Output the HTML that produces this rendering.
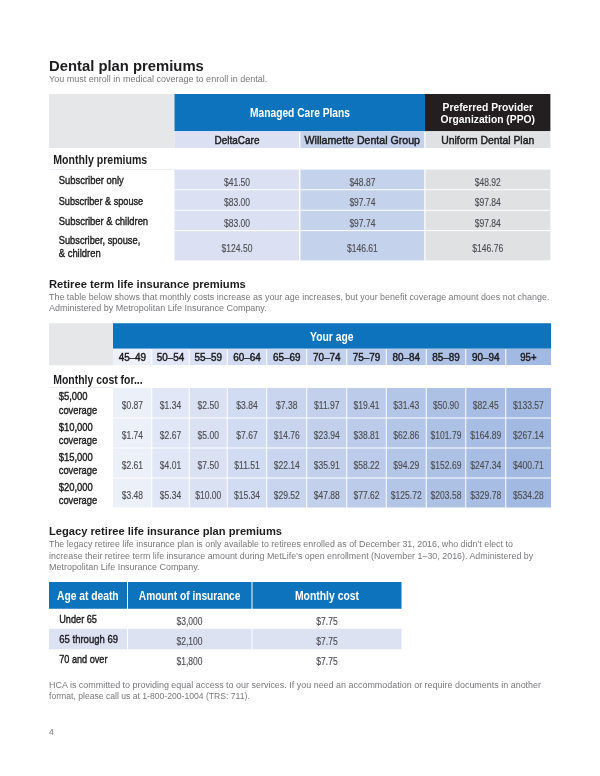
<!DOCTYPE html>
<html lang="en"><head><meta charset="utf-8"><title>Dental plan premiums</title>
<style>
html,body{margin:0;padding:0;background:#fff}
svg{display:block;font-family:"Liberation Sans",sans-serif}
text{white-space:pre}
</style></head><body>
<svg width="600" height="776" viewBox="0 0 600 776">
<text transform="translate(49 70.5) scale(1.0162 1)" font-size="14.6" font-weight="bold" fill="#1d1d1f">Dental plan premiums</text>
<text transform="translate(49 81.5) scale(0.9116 1)" font-size="9.9" fill="#77787b">You must enroll in medical coverage to enroll in dental.</text>
<rect x="49" y="94" width="125.5" height="54" fill="#e6e7e8"/>
<rect x="174.5" y="94" width="250.5" height="37.25" fill="#0d73bc"/>
<rect x="425" y="94" width="125.4" height="37.25" fill="#231f20"/>
<rect x="174.5" y="131.25" width="124.5" height="16.75" fill="#dbe1f3"/>
<rect x="300.5" y="131.25" width="123.75" height="16.75" fill="#c4d2ec"/>
<rect x="425.5" y="131.25" width="124.9" height="16.75" fill="#e0e1e3"/>
<rect x="174.5" y="169.6" width="124.5" height="19.6" fill="#dbe1f3"/>
<rect x="300.5" y="169.6" width="123.75" height="19.6" fill="#c4d2ec"/>
<rect x="425.5" y="169.6" width="124.9" height="19.6" fill="#e0e1e3"/>
<rect x="174.5" y="190.2" width="124.5" height="19.6" fill="#dbe1f3"/>
<rect x="300.5" y="190.2" width="123.75" height="19.6" fill="#c4d2ec"/>
<rect x="425.5" y="190.2" width="124.9" height="19.6" fill="#e0e1e3"/>
<rect x="174.5" y="210.8" width="124.5" height="19.3" fill="#dbe1f3"/>
<rect x="300.5" y="210.8" width="123.75" height="19.3" fill="#c4d2ec"/>
<rect x="425.5" y="210.8" width="124.9" height="19.3" fill="#e0e1e3"/>
<rect x="174.5" y="231.1" width="124.5" height="29.3" fill="#dbe1f3"/>
<rect x="300.5" y="231.1" width="123.75" height="29.3" fill="#c4d2ec"/>
<rect x="425.5" y="231.1" width="124.9" height="29.3" fill="#e0e1e3"/>
<rect x="49" y="169.25" width="125.5" height="0.75" fill="#e4e8f6"/>
<text transform="translate(300 117.25) scale(0.8519 1)" font-size="12" font-weight="bold" fill="#fff" text-anchor="middle">Managed Care Plans</text>
<text transform="translate(487.75 111.25) scale(0.8733 1)" font-size="11.8" font-weight="bold" fill="#fff" text-anchor="middle">Preferred Provider</text>
<text transform="translate(487.75 123.25) scale(0.8736 1)" font-size="11.8" font-weight="bold" fill="#fff" text-anchor="middle">Organization (PPO)</text>
<text transform="translate(237 143.75) scale(0.8692 1)" font-size="11.5" fill="#1d1d1f" stroke="#1d1d1f" stroke-width="0.48" text-anchor="middle">DeltaCare</text>
<text transform="translate(362.25 143.75) scale(0.9220 1)" font-size="11.5" fill="#1d1d1f" stroke="#1d1d1f" stroke-width="0.48" text-anchor="middle">Willamette Dental Group</text>
<text transform="translate(487.75 143.75) scale(0.9037 1)" font-size="11.5" fill="#1d1d1f" stroke="#1d1d1f" stroke-width="0.48" text-anchor="middle">Uniform Dental Plan</text>
<text transform="translate(53.25 163.75) scale(0.8739 1)" font-size="12.1" font-weight="bold" fill="#1d1d1f">Monthly premiums</text>
<text transform="translate(58.75 184.25) scale(0.7992 1)" font-size="11.8" fill="#1d1d1f" stroke="#1d1d1f" stroke-width="0.42">Subscriber only</text>
<text transform="translate(58.75 204.5) scale(0.7761 1)" font-size="11.8" fill="#1d1d1f" stroke="#1d1d1f" stroke-width="0.42">Subscriber &amp; spouse</text>
<text transform="translate(58.75 224.5) scale(0.7980 1)" font-size="11.8" fill="#1d1d1f" stroke="#1d1d1f" stroke-width="0.42">Subscriber &amp; children</text>
<text transform="translate(58.75 243.75) scale(0.7864 1)" font-size="11.8" fill="#1d1d1f" stroke="#1d1d1f" stroke-width="0.42">Subscriber, spouse,</text>
<text transform="translate(58.75 256.75) scale(0.8004 1)" font-size="11.8" fill="#1d1d1f" stroke="#1d1d1f" stroke-width="0.42">&amp; children</text>
<text transform="translate(237 186.1) scale(0.7350 1)" font-size="11.6" fill="#4d4e52" stroke="#4d4e52" stroke-width="0.15" text-anchor="middle">$41.50</text>
<text transform="translate(362.4 186.1) scale(0.7350 1)" font-size="11.6" fill="#4d4e52" stroke="#4d4e52" stroke-width="0.15" text-anchor="middle">$48.87</text>
<text transform="translate(487.75 186.1) scale(0.7350 1)" font-size="11.6" fill="#4d4e52" stroke="#4d4e52" stroke-width="0.15" text-anchor="middle">$48.92</text>
<text transform="translate(237 206.3) scale(0.7350 1)" font-size="11.6" fill="#4d4e52" stroke="#4d4e52" stroke-width="0.15" text-anchor="middle">$83.00</text>
<text transform="translate(362.4 206.3) scale(0.7350 1)" font-size="11.6" fill="#4d4e52" stroke="#4d4e52" stroke-width="0.15" text-anchor="middle">$97.74</text>
<text transform="translate(487.75 206.3) scale(0.7350 1)" font-size="11.6" fill="#4d4e52" stroke="#4d4e52" stroke-width="0.15" text-anchor="middle">$97.84</text>
<text transform="translate(237 226.6) scale(0.7350 1)" font-size="11.6" fill="#4d4e52" stroke="#4d4e52" stroke-width="0.15" text-anchor="middle">$83.00</text>
<text transform="translate(362.4 226.6) scale(0.7350 1)" font-size="11.6" fill="#4d4e52" stroke="#4d4e52" stroke-width="0.15" text-anchor="middle">$97.74</text>
<text transform="translate(487.75 226.6) scale(0.7350 1)" font-size="11.6" fill="#4d4e52" stroke="#4d4e52" stroke-width="0.15" text-anchor="middle">$97.84</text>
<text transform="translate(237 251.7) scale(0.7350 1)" font-size="11.6" fill="#4d4e52" stroke="#4d4e52" stroke-width="0.15" text-anchor="middle">$124.50</text>
<text transform="translate(362.4 251.7) scale(0.7350 1)" font-size="11.6" fill="#4d4e52" stroke="#4d4e52" stroke-width="0.15" text-anchor="middle">$146.61</text>
<text transform="translate(487.75 251.7) scale(0.7350 1)" font-size="11.6" fill="#4d4e52" stroke="#4d4e52" stroke-width="0.15" text-anchor="middle">$146.76</text>
<text transform="translate(49 287.5) scale(1.0259 1)" font-size="10.9" font-weight="bold" fill="#1d1d1f">Retiree term life insurance premiums</text>
<text transform="translate(49 299.5) scale(0.9031 1)" font-size="9.9" fill="#77787b">The table below shows that monthly costs increase as your age increases, but your benefit coverage amount does not change.</text>
<text transform="translate(49 311.25) scale(0.9072 1)" font-size="9.9" fill="#77787b">Administered by Metropolitan Life Insurance Company.</text>
<rect x="49" y="323.25" width="64" height="42" fill="#e6e7e8"/>
<rect x="113" y="323.25" width="438" height="25.5" fill="#0d73bc"/>
<text transform="translate(331.75 340.5) scale(0.8621 1)" font-size="12" font-weight="bold" fill="#fff" text-anchor="middle">Your age</text>
<rect x="113" y="348.75" width="38.25" height="16.25" fill="#ecf0f9"/>
<text transform="translate(132.375 361.25) scale(0.8599 1)" font-size="11.5" fill="#1d1d1f" stroke="#1d1d1f" stroke-width="0.48" text-anchor="middle">45–49</text>
<rect x="113" y="388" width="38.25" height="29.5" fill="#ecf0f9"/>
<text transform="translate(132.375 408.75) scale(0.7350 1)" font-size="11.6" fill="#4d4e52" stroke="#4d4e52" stroke-width="0.15" text-anchor="middle">$0.87</text>
<rect x="113" y="418.5" width="38.25" height="29" fill="#ecf0f9"/>
<text transform="translate(132.375 439.25) scale(0.7350 1)" font-size="11.6" fill="#4d4e52" stroke="#4d4e52" stroke-width="0.15" text-anchor="middle">$1.74</text>
<rect x="113" y="448.5" width="38.25" height="29" fill="#ecf0f9"/>
<text transform="translate(132.375 469.25) scale(0.7350 1)" font-size="11.6" fill="#4d4e52" stroke="#4d4e52" stroke-width="0.15" text-anchor="middle">$2.61</text>
<rect x="113" y="478.5" width="38.25" height="29" fill="#ecf0f9"/>
<text transform="translate(132.375 499.25) scale(0.7350 1)" font-size="11.6" fill="#4d4e52" stroke="#4d4e52" stroke-width="0.15" text-anchor="middle">$3.48</text>
<rect x="152.25" y="348.75" width="36.5" height="16.25" fill="#e1e7f6"/>
<text transform="translate(170.5 361.25) scale(0.8599 1)" font-size="11.5" fill="#1d1d1f" stroke="#1d1d1f" stroke-width="0.48" text-anchor="middle">50–54</text>
<rect x="152.25" y="388" width="36.5" height="29.5" fill="#e1e7f6"/>
<text transform="translate(170.5 408.75) scale(0.7350 1)" font-size="11.6" fill="#4d4e52" stroke="#4d4e52" stroke-width="0.15" text-anchor="middle">$1.34</text>
<rect x="152.25" y="418.5" width="36.5" height="29" fill="#e1e7f6"/>
<text transform="translate(170.5 439.25) scale(0.7350 1)" font-size="11.6" fill="#4d4e52" stroke="#4d4e52" stroke-width="0.15" text-anchor="middle">$2.67</text>
<rect x="152.25" y="448.5" width="36.5" height="29" fill="#e1e7f6"/>
<text transform="translate(170.5 469.25) scale(0.7350 1)" font-size="11.6" fill="#4d4e52" stroke="#4d4e52" stroke-width="0.15" text-anchor="middle">$4.01</text>
<rect x="152.25" y="478.5" width="36.5" height="29" fill="#e1e7f6"/>
<text transform="translate(170.5 499.25) scale(0.7350 1)" font-size="11.6" fill="#4d4e52" stroke="#4d4e52" stroke-width="0.15" text-anchor="middle">$5.34</text>
<rect x="189.75" y="348.75" width="37" height="16.25" fill="#d9e1f3"/>
<text transform="translate(208.25 361.25) scale(0.8599 1)" font-size="11.5" fill="#1d1d1f" stroke="#1d1d1f" stroke-width="0.48" text-anchor="middle">55–59</text>
<rect x="189.75" y="388" width="37" height="29.5" fill="#d9e1f3"/>
<text transform="translate(208.25 408.75) scale(0.7350 1)" font-size="11.6" fill="#4d4e52" stroke="#4d4e52" stroke-width="0.15" text-anchor="middle">$2.50</text>
<rect x="189.75" y="418.5" width="37" height="29" fill="#d9e1f3"/>
<text transform="translate(208.25 439.25) scale(0.7350 1)" font-size="11.6" fill="#4d4e52" stroke="#4d4e52" stroke-width="0.15" text-anchor="middle">$5.00</text>
<rect x="189.75" y="448.5" width="37" height="29" fill="#d9e1f3"/>
<text transform="translate(208.25 469.25) scale(0.7350 1)" font-size="11.6" fill="#4d4e52" stroke="#4d4e52" stroke-width="0.15" text-anchor="middle">$7.50</text>
<rect x="189.75" y="478.5" width="37" height="29" fill="#d9e1f3"/>
<text transform="translate(208.25 499.25) scale(0.7350 1)" font-size="11.6" fill="#4d4e52" stroke="#4d4e52" stroke-width="0.15" text-anchor="middle">$10.00</text>
<rect x="227.75" y="348.75" width="38.5" height="16.25" fill="#d1dbf1"/>
<text transform="translate(247 361.25) scale(0.8599 1)" font-size="11.5" fill="#1d1d1f" stroke="#1d1d1f" stroke-width="0.48" text-anchor="middle">60–64</text>
<rect x="227.75" y="388" width="38.5" height="29.5" fill="#d1dbf1"/>
<text transform="translate(247 408.75) scale(0.7350 1)" font-size="11.6" fill="#4d4e52" stroke="#4d4e52" stroke-width="0.15" text-anchor="middle">$3.84</text>
<rect x="227.75" y="418.5" width="38.5" height="29" fill="#d1dbf1"/>
<text transform="translate(247 439.25) scale(0.7350 1)" font-size="11.6" fill="#4d4e52" stroke="#4d4e52" stroke-width="0.15" text-anchor="middle">$7.67</text>
<rect x="227.75" y="448.5" width="38.5" height="29" fill="#d1dbf1"/>
<text transform="translate(247 469.25) scale(0.7350 1)" font-size="11.6" fill="#4d4e52" stroke="#4d4e52" stroke-width="0.15" text-anchor="middle">$11.51</text>
<rect x="227.75" y="478.5" width="38.5" height="29" fill="#d1dbf1"/>
<text transform="translate(247 499.25) scale(0.7350 1)" font-size="11.6" fill="#4d4e52" stroke="#4d4e52" stroke-width="0.15" text-anchor="middle">$15.34</text>
<rect x="267.25" y="348.75" width="39" height="16.25" fill="#c9d5ee"/>
<text transform="translate(286.75 361.25) scale(0.8599 1)" font-size="11.5" fill="#1d1d1f" stroke="#1d1d1f" stroke-width="0.48" text-anchor="middle">65–69</text>
<rect x="267.25" y="388" width="39" height="29.5" fill="#c9d5ee"/>
<text transform="translate(286.75 408.75) scale(0.7350 1)" font-size="11.6" fill="#4d4e52" stroke="#4d4e52" stroke-width="0.15" text-anchor="middle">$7.38</text>
<rect x="267.25" y="418.5" width="39" height="29" fill="#c9d5ee"/>
<text transform="translate(286.75 439.25) scale(0.7350 1)" font-size="11.6" fill="#4d4e52" stroke="#4d4e52" stroke-width="0.15" text-anchor="middle">$14.76</text>
<rect x="267.25" y="448.5" width="39" height="29" fill="#c9d5ee"/>
<text transform="translate(286.75 469.25) scale(0.7350 1)" font-size="11.6" fill="#4d4e52" stroke="#4d4e52" stroke-width="0.15" text-anchor="middle">$22.14</text>
<rect x="267.25" y="478.5" width="39" height="29" fill="#c9d5ee"/>
<text transform="translate(286.75 499.25) scale(0.7350 1)" font-size="11.6" fill="#4d4e52" stroke="#4d4e52" stroke-width="0.15" text-anchor="middle">$29.52</text>
<rect x="307.25" y="348.75" width="39" height="16.25" fill="#c2d0ec"/>
<text transform="translate(326.75 361.25) scale(0.8599 1)" font-size="11.5" fill="#1d1d1f" stroke="#1d1d1f" stroke-width="0.48" text-anchor="middle">70–74</text>
<rect x="307.25" y="388" width="39" height="29.5" fill="#c2d0ec"/>
<text transform="translate(326.75 408.75) scale(0.7350 1)" font-size="11.6" fill="#4d4e52" stroke="#4d4e52" stroke-width="0.15" text-anchor="middle">$11.97</text>
<rect x="307.25" y="418.5" width="39" height="29" fill="#c2d0ec"/>
<text transform="translate(326.75 439.25) scale(0.7350 1)" font-size="11.6" fill="#4d4e52" stroke="#4d4e52" stroke-width="0.15" text-anchor="middle">$23.94</text>
<rect x="307.25" y="448.5" width="39" height="29" fill="#c2d0ec"/>
<text transform="translate(326.75 469.25) scale(0.7350 1)" font-size="11.6" fill="#4d4e52" stroke="#4d4e52" stroke-width="0.15" text-anchor="middle">$35.91</text>
<rect x="307.25" y="478.5" width="39" height="29" fill="#c2d0ec"/>
<text transform="translate(326.75 499.25) scale(0.7350 1)" font-size="11.6" fill="#4d4e52" stroke="#4d4e52" stroke-width="0.15" text-anchor="middle">$47.88</text>
<rect x="347.25" y="348.75" width="38.5" height="16.25" fill="#bbcbe9"/>
<text transform="translate(366.5 361.25) scale(0.8599 1)" font-size="11.5" fill="#1d1d1f" stroke="#1d1d1f" stroke-width="0.48" text-anchor="middle">75–79</text>
<rect x="347.25" y="388" width="38.5" height="29.5" fill="#bbcbe9"/>
<text transform="translate(366.5 408.75) scale(0.7350 1)" font-size="11.6" fill="#4d4e52" stroke="#4d4e52" stroke-width="0.15" text-anchor="middle">$19.41</text>
<rect x="347.25" y="418.5" width="38.5" height="29" fill="#bbcbe9"/>
<text transform="translate(366.5 439.25) scale(0.7350 1)" font-size="11.6" fill="#4d4e52" stroke="#4d4e52" stroke-width="0.15" text-anchor="middle">$38.81</text>
<rect x="347.25" y="448.5" width="38.5" height="29" fill="#bbcbe9"/>
<text transform="translate(366.5 469.25) scale(0.7350 1)" font-size="11.6" fill="#4d4e52" stroke="#4d4e52" stroke-width="0.15" text-anchor="middle">$58.22</text>
<rect x="347.25" y="478.5" width="38.5" height="29" fill="#bbcbe9"/>
<text transform="translate(366.5 499.25) scale(0.7350 1)" font-size="11.6" fill="#4d4e52" stroke="#4d4e52" stroke-width="0.15" text-anchor="middle">$77.62</text>
<rect x="386.75" y="348.75" width="39" height="16.25" fill="#b4c6e7"/>
<text transform="translate(406.25 361.25) scale(0.8599 1)" font-size="11.5" fill="#1d1d1f" stroke="#1d1d1f" stroke-width="0.48" text-anchor="middle">80–84</text>
<rect x="386.75" y="388" width="39" height="29.5" fill="#b4c6e7"/>
<text transform="translate(406.25 408.75) scale(0.7350 1)" font-size="11.6" fill="#4d4e52" stroke="#4d4e52" stroke-width="0.15" text-anchor="middle">$31.43</text>
<rect x="386.75" y="418.5" width="39" height="29" fill="#b4c6e7"/>
<text transform="translate(406.25 439.25) scale(0.7350 1)" font-size="11.6" fill="#4d4e52" stroke="#4d4e52" stroke-width="0.15" text-anchor="middle">$62.86</text>
<rect x="386.75" y="448.5" width="39" height="29" fill="#b4c6e7"/>
<text transform="translate(406.25 469.25) scale(0.7350 1)" font-size="11.6" fill="#4d4e52" stroke="#4d4e52" stroke-width="0.15" text-anchor="middle">$94.29</text>
<rect x="386.75" y="478.5" width="39" height="29" fill="#b4c6e7"/>
<text transform="translate(406.25 499.25) scale(0.7350 1)" font-size="11.6" fill="#4d4e52" stroke="#4d4e52" stroke-width="0.15" text-anchor="middle">$125.72</text>
<rect x="426.75" y="348.75" width="38.5" height="16.25" fill="#adc1e5"/>
<text transform="translate(446 361.25) scale(0.8599 1)" font-size="11.5" fill="#1d1d1f" stroke="#1d1d1f" stroke-width="0.48" text-anchor="middle">85–89</text>
<rect x="426.75" y="388" width="38.5" height="29.5" fill="#adc1e5"/>
<text transform="translate(446 408.75) scale(0.7350 1)" font-size="11.6" fill="#4d4e52" stroke="#4d4e52" stroke-width="0.15" text-anchor="middle">$50.90</text>
<rect x="426.75" y="418.5" width="38.5" height="29" fill="#adc1e5"/>
<text transform="translate(446 439.25) scale(0.7350 1)" font-size="11.6" fill="#4d4e52" stroke="#4d4e52" stroke-width="0.15" text-anchor="middle">$101.79</text>
<rect x="426.75" y="448.5" width="38.5" height="29" fill="#adc1e5"/>
<text transform="translate(446 469.25) scale(0.7350 1)" font-size="11.6" fill="#4d4e52" stroke="#4d4e52" stroke-width="0.15" text-anchor="middle">$152.69</text>
<rect x="426.75" y="478.5" width="38.5" height="29" fill="#adc1e5"/>
<text transform="translate(446 499.25) scale(0.7350 1)" font-size="11.6" fill="#4d4e52" stroke="#4d4e52" stroke-width="0.15" text-anchor="middle">$203.58</text>
<rect x="466.25" y="348.75" width="39" height="16.25" fill="#a7bde3"/>
<text transform="translate(485.75 361.25) scale(0.8599 1)" font-size="11.5" fill="#1d1d1f" stroke="#1d1d1f" stroke-width="0.48" text-anchor="middle">90–94</text>
<rect x="466.25" y="388" width="39" height="29.5" fill="#a7bde3"/>
<text transform="translate(485.75 408.75) scale(0.7350 1)" font-size="11.6" fill="#4d4e52" stroke="#4d4e52" stroke-width="0.15" text-anchor="middle">$82.45</text>
<rect x="466.25" y="418.5" width="39" height="29" fill="#a7bde3"/>
<text transform="translate(485.75 439.25) scale(0.7350 1)" font-size="11.6" fill="#4d4e52" stroke="#4d4e52" stroke-width="0.15" text-anchor="middle">$164.89</text>
<rect x="466.25" y="448.5" width="39" height="29" fill="#a7bde3"/>
<text transform="translate(485.75 469.25) scale(0.7350 1)" font-size="11.6" fill="#4d4e52" stroke="#4d4e52" stroke-width="0.15" text-anchor="middle">$247.34</text>
<rect x="466.25" y="478.5" width="39" height="29" fill="#a7bde3"/>
<text transform="translate(485.75 499.25) scale(0.7350 1)" font-size="11.6" fill="#4d4e52" stroke="#4d4e52" stroke-width="0.15" text-anchor="middle">$329.78</text>
<rect x="506.25" y="348.75" width="44.75" height="16.25" fill="#a2b9e1"/>
<text transform="translate(528.375 361.25) scale(0.8330 1)" font-size="11.5" fill="#1d1d1f" stroke="#1d1d1f" stroke-width="0.48" text-anchor="middle">95+</text>
<rect x="506.25" y="388" width="44.75" height="29.5" fill="#a2b9e1"/>
<text transform="translate(528.375 408.75) scale(0.7350 1)" font-size="11.6" fill="#4d4e52" stroke="#4d4e52" stroke-width="0.15" text-anchor="middle">$133.57</text>
<rect x="506.25" y="418.5" width="44.75" height="29" fill="#a2b9e1"/>
<text transform="translate(528.375 439.25) scale(0.7350 1)" font-size="11.6" fill="#4d4e52" stroke="#4d4e52" stroke-width="0.15" text-anchor="middle">$267.14</text>
<rect x="506.25" y="448.5" width="44.75" height="29" fill="#a2b9e1"/>
<text transform="translate(528.375 469.25) scale(0.7350 1)" font-size="11.6" fill="#4d4e52" stroke="#4d4e52" stroke-width="0.15" text-anchor="middle">$400.71</text>
<rect x="506.25" y="478.5" width="44.75" height="29" fill="#a2b9e1"/>
<text transform="translate(528.375 499.25) scale(0.7350 1)" font-size="11.6" fill="#4d4e52" stroke="#4d4e52" stroke-width="0.15" text-anchor="middle">$534.28</text>
<text transform="translate(53.25 383.75) scale(0.8645 1)" font-size="12.1" font-weight="bold" fill="#1d1d1f">Monthly cost for...</text>
<rect x="49" y="387.25" width="64" height="0.75" fill="#e4e8f6"/>
<text transform="translate(58.75 400) scale(0.8000 1)" font-size="11.8" fill="#1d1d1f" stroke="#1d1d1f" stroke-width="0.42">$5,000</text>
<text transform="translate(58.75 413.75) scale(0.7931 1)" font-size="11.8" fill="#1d1d1f" stroke="#1d1d1f" stroke-width="0.42">coverage</text>
<text transform="translate(58.75 430.5) scale(0.8000 1)" font-size="11.8" fill="#1d1d1f" stroke="#1d1d1f" stroke-width="0.42">$10,000</text>
<text transform="translate(58.75 444.25) scale(0.7931 1)" font-size="11.8" fill="#1d1d1f" stroke="#1d1d1f" stroke-width="0.42">coverage</text>
<text transform="translate(58.75 460.5) scale(0.8000 1)" font-size="11.8" fill="#1d1d1f" stroke="#1d1d1f" stroke-width="0.42">$15,000</text>
<text transform="translate(58.75 474.25) scale(0.7931 1)" font-size="11.8" fill="#1d1d1f" stroke="#1d1d1f" stroke-width="0.42">coverage</text>
<text transform="translate(58.75 490.5) scale(0.8000 1)" font-size="11.8" fill="#1d1d1f" stroke="#1d1d1f" stroke-width="0.42">$20,000</text>
<text transform="translate(58.75 504.25) scale(0.7931 1)" font-size="11.8" fill="#1d1d1f" stroke="#1d1d1f" stroke-width="0.42">coverage</text>
<text transform="translate(49 534.5) scale(1.0251 1)" font-size="10.9" font-weight="bold" fill="#1d1d1f">Legacy retiree life insurance plan premiums</text>
<text transform="translate(49 547) scale(0.8970 1)" font-size="9.9" fill="#77787b">The legacy retiree life insurance plan is only available to retirees enrolled as of December 31, 2016, who didn’t elect to</text>
<text transform="translate(49 558.5) scale(0.8987 1)" font-size="9.9" fill="#77787b">increase their retiree term life insurance amount during MetLife’s open enrollment (November 1–30, 2016). Administered by</text>
<text transform="translate(49 570) scale(0.9066 1)" font-size="9.9" fill="#77787b">Metropolitan Life Insurance Company.</text>
<rect x="49" y="582" width="78" height="26.75" fill="#0d73bc"/>
<rect x="49" y="628.75" width="78" height="20.5" fill="#dde2f3"/>
<rect x="128" y="582" width="123.5" height="26.75" fill="#0d73bc"/>
<rect x="128" y="628.75" width="123.5" height="20.5" fill="#dde2f3"/>
<rect x="252.5" y="582" width="149" height="26.75" fill="#0d73bc"/>
<rect x="252.5" y="628.75" width="149" height="20.5" fill="#dde2f3"/>
<text transform="translate(57 599.5) scale(0.8434 1)" font-size="12.2" font-weight="bold" fill="#fff">Age at death</text>
<text transform="translate(189.6 599.5) scale(0.8340 1)" font-size="12.2" font-weight="bold" fill="#fff" text-anchor="middle">Amount of insurance</text>
<text transform="translate(327 599.5) scale(0.8533 1)" font-size="12.2" font-weight="bold" fill="#fff" text-anchor="middle">Monthly cost</text>
<text transform="translate(59.25 622.5) scale(0.7776 1)" font-size="11.8" fill="#1d1d1f" stroke="#1d1d1f" stroke-width="0.42">Under 65</text>
<text transform="translate(59.25 643) scale(0.8067 1)" font-size="11.8" fill="#1d1d1f" stroke="#1d1d1f" stroke-width="0.42">65 through 69</text>
<text transform="translate(59.25 663.25) scale(0.7742 1)" font-size="11.8" fill="#1d1d1f" stroke="#1d1d1f" stroke-width="0.42">70 and over</text>
<text transform="translate(189.5 625) scale(0.7350 1)" font-size="11.6" fill="#4d4e52" stroke="#4d4e52" stroke-width="0.15" text-anchor="middle">$3,000</text>
<text transform="translate(327 625) scale(0.7350 1)" font-size="11.6" fill="#4d4e52" stroke="#4d4e52" stroke-width="0.15" text-anchor="middle">$7.75</text>
<text transform="translate(189.5 645) scale(0.7350 1)" font-size="11.6" fill="#4d4e52" stroke="#4d4e52" stroke-width="0.15" text-anchor="middle">$2,100</text>
<text transform="translate(327 645) scale(0.7350 1)" font-size="11.6" fill="#4d4e52" stroke="#4d4e52" stroke-width="0.15" text-anchor="middle">$7.75</text>
<text transform="translate(189.5 665) scale(0.7350 1)" font-size="11.6" fill="#4d4e52" stroke="#4d4e52" stroke-width="0.15" text-anchor="middle">$1,800</text>
<text transform="translate(327 665) scale(0.7350 1)" font-size="11.6" fill="#4d4e52" stroke="#4d4e52" stroke-width="0.15" text-anchor="middle">$7.75</text>
<text transform="translate(49 688) scale(0.9068 1)" font-size="9.9" fill="#77787b">HCA is committed to providing equal access to our services. If you need an accommodation or require documents in another</text>
<text transform="translate(49 699.4) scale(0.8712 1)" font-size="9.9" fill="#77787b">format, please call us at 1-800-200-1004 (TRS: 711).</text>
<text transform="translate(49 735) scale(1.0000 1)" font-size="8.5" fill="#77787b">4</text>
</svg>
</body></html>
